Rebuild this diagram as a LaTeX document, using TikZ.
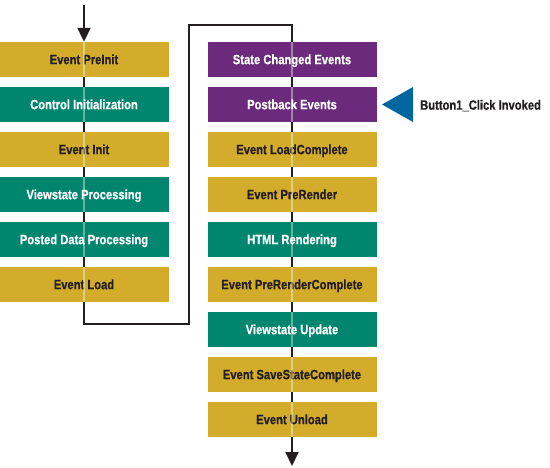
\documentclass[tikz,border=0pt]{standalone}
\usepackage{fontspec}
\setmainfont[FakeStretch=0.83,BoldFeatures={FakeBold=0.6}]{Liberation Sans}
\usetikzlibrary{arrows.meta}
\definecolor{gold}{HTML}{D4AC2C}
\definecolor{teal2}{HTML}{00866F}
\definecolor{purp}{HTML}{6C2A7C}
\definecolor{blu}{HTML}{00679E}
\definecolor{ink}{HTML}{231F20}
\tikzset{
  box/.style={minimum width=169pt, minimum height=35pt, inner sep=0pt, text height=9.4pt, text depth=0pt, font=\fontsize{13.5}{13.5}\selectfont\bfseries},
  goldbox/.style={box, fill=gold, text=ink},
  tealbox/.style={box, fill=teal2, text=white},
  purpbox/.style={box, fill=purp, text=white},
  flow/.style={draw=ink, line width=2pt},
  tip/.style={-{Triangle[length=14pt,width=13pt]}},
  sheen/.style={draw=white, opacity=0.4, line width=1.6pt}
}
\begin{document}
\begin{tikzpicture}[x=1pt,y=-1pt]
\useasboundingbox (0,0) rectangle (550,467);
\coordinate (start) at (84,5);
\coordinate (c1) at (84,324);
\coordinate (c2) at (189,324);
\coordinate (c3) at (189,25);
\coordinate (c4) at (292,25);
\coordinate (stop) at (292,466);
% left column
\node[goldbox] (l1) at (84,59.5) {Event PreInit};
\node[tealbox] (l2) at (84,104.5) {Control Initialization};
\node[goldbox] (l3) at (84,149.5) {Event Init};
\node[tealbox] (l4) at (84,194.5) {Viewstate Processing};
\node[tealbox] (l5) at (84,239.5) {Posted Data Processing};
\node[goldbox] (l6) at (84,284.5) {Event Load};
% right column
\node[purpbox] (r1) at (292,59.5) {State Changed Events};
\node[purpbox] (r2) at (292,104.5) {Postback Events};
\node[goldbox] (r3) at (292,149.5) {Event LoadComplete};
\node[goldbox] (r4) at (292,194.5) {Event PreRender};
\node[tealbox] (r5) at (292,239.5) {HTML Rendering};
\node[goldbox] (r6) at (292,284.5) {Event PreRenderComplete};
\node[tealbox] (r7) at (292,329.5) {Viewstate Update};
\node[goldbox] (r8) at (292,374.5) {Event SaveStateComplete};
\node[goldbox] (r9) at (292,419.5) {Event Unload};
% connectors
\draw[flow,tip] (start) -- (l1.north);
\foreach \a/\b in {l1/l2,l2/l3,l3/l4,l4/l5,l5/l6,r1/r2,r2/r3,r3/r4,r4/r5,r5/r6,r6/r7,r7/r8,r8/r9}
  \draw[flow] (\a.south) -- (\b.north);
\draw[flow] (l6.south) -- (c1) -- (c2) -- (c3) -- (c4) -- (r1.north);
\draw[flow,tip] (r9.south) -- (stop);
% light line through boxes
\foreach \n in {l1,l2,l3,l4,l5,l6,r1,r2,r3,r4,r5,r6,r7,r8,r9}
  \draw[sheen] (\n.north) -- (\n.south);
% Button trigger
\fill[blu] (413,87) -- (413,122) -- (382,104.5) -- cycle;
\node[anchor=west, inner sep=0pt, text=ink, text height=9.4pt, text depth=0pt, font=\fontsize{13.5}{13.5}\selectfont\bfseries] (btn) at (420,105) {Button1\_Click Invoked};
\end{tikzpicture}
\end{document}
